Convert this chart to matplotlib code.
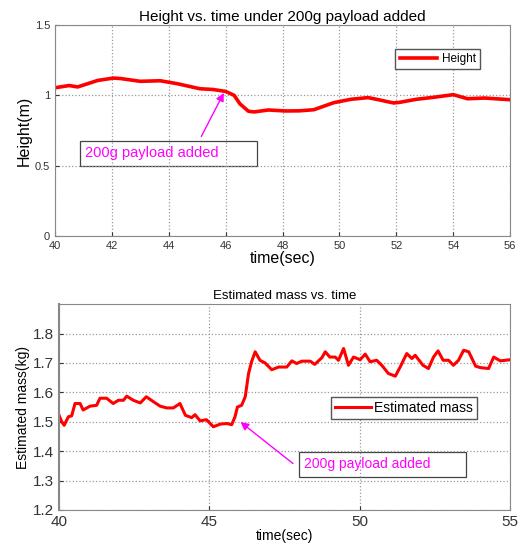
import numpy as np
import matplotlib
matplotlib.use('Agg')
import matplotlib.pyplot as plt
from matplotlib.patches import Rectangle

# height vs time
t_height = [40.0, 40.5, 40.8, 41.5, 42.05, 42.3, 43.0, 43.7, 44.3, 45.1, 45.55, 46.0,
            46.3, 46.5, 46.8, 47.0, 47.5, 48.1, 48.6, 49.1, 49.8, 50.4, 51.0, 51.3,
            51.9, 52.1, 52.7, 53.3, 54.0, 54.5, 55.1, 56.0]
height = [1.054, 1.07, 1.06, 1.106, 1.123, 1.12, 1.10, 1.104, 1.083, 1.047, 1.042, 1.028,
          1.0, 0.94, 0.887, 0.882, 0.896, 0.889, 0.89, 0.898, 0.948, 0.972, 0.984, 0.972,
          0.946, 0.95, 0.972, 0.986, 1.005, 0.976, 0.981, 0.969]

# estimated mass vs time
t_mass = [40.0, 40.09, 40.17, 40.31, 40.42, 40.53, 40.7, 40.8, 41.03, 41.25, 41.36, 41.58,
          41.8, 41.97, 42.14, 42.25, 42.47, 42.7, 42.9, 43.14, 43.36, 43.58, 43.8, 44.02,
          44.2, 44.41, 44.52, 44.69, 44.9, 45.13, 45.36, 45.58, 45.74, 45.85, 45.93, 46.07,
          46.19, 46.3, 46.4, 46.52, 46.68, 46.85, 47.07, 47.3, 47.57, 47.74, 47.9, 48.07,
          48.35, 48.5, 48.74, 48.85, 49.0, 49.18, 49.29, 49.46, 49.62, 49.79, 50.01, 50.18,
          50.34, 50.56, 50.73, 50.95, 51.18, 51.34, 51.56, 51.73, 51.84, 52.1, 52.28, 52.45,
          52.6, 52.77, 52.95, 53.11, 53.28, 53.45, 53.62, 53.85, 54.01, 54.28, 54.45, 54.67,
          54.84, 55.0]
mass = [1.522, 1.50, 1.488, 1.517, 1.52, 1.562, 1.562, 1.54, 1.553, 1.556, 1.58, 1.58,
        1.562, 1.573, 1.573, 1.587, 1.573, 1.564, 1.585, 1.568, 1.553, 1.547, 1.547, 1.562,
        1.522, 1.514, 1.524, 1.503, 1.507, 1.483, 1.492, 1.494, 1.49, 1.517, 1.55, 1.556,
        1.585, 1.664, 1.704, 1.738, 1.709, 1.70, 1.677, 1.686, 1.686, 1.707, 1.698, 1.706,
        1.706, 1.695, 1.718, 1.738, 1.72, 1.72, 1.709, 1.749, 1.692, 1.72, 1.711, 1.73,
        1.704, 1.709, 1.692, 1.664, 1.655, 1.686, 1.732, 1.715, 1.726, 1.692, 1.681, 1.72,
        1.741, 1.709, 1.709, 1.692, 1.709, 1.743, 1.738, 1.689, 1.684, 1.681, 1.72, 1.707,
        1.709, 1.711]

plt.rcParams['font.family'] = 'Liberation Sans'

fig = plt.figure(figsize=(5.18, 5.46), dpi=100)
ax1 = fig.add_axes([0.106, 0.568, 0.879, 0.386])
ax2 = fig.add_axes([0.114, 0.066, 0.871, 0.377])

for ax in (ax1, ax2):
    ax.grid(True, linestyle=':', color='#999999', linewidth=0.9)
    ax.tick_params(direction='in', colors='#333333', length=3)
    for s in ax.spines.values():
        s.set_color('#888888')

# top panel
ax1.plot(t_height, height, color='red', lw=2.6, label='Height')
ax1.set_xlim(40, 56)
ax1.set_ylim(0, 1.5)
ax1.set_xticks(np.arange(40, 57, 2))
ax1.set_yticks([0, 0.5, 1, 1.5])
ax1.set_yticklabels(['0', '0.5', '1', '1.5'])
ax1.tick_params(labelsize=8)
ax1.set_title('Height vs. time under 200g payload added', fontsize=11, pad=3)
ax1.set_xlabel('time(sec)', fontsize=11.5, labelpad=0)
ax1.set_ylabel('Height(m)', fontsize=11.5, labelpad=2)
ax1.legend(loc='upper right', bbox_to_anchor=(0.934, 0.886), fontsize=8.5, fancybox=False,
           edgecolor='#555555', handlelength=3.2, borderpad=0.35, handletextpad=0.4,
           framealpha=1, borderaxespad=0)
ax1.add_patch(Rectangle((40.88, 0.497), 6.22, 0.18, fill=False, edgecolor='#444444', lw=0.9))
ax1.text(41.05, 0.587, '200g payload added', color='magenta', fontsize=10.5, va='center')
ax1.annotate('', xy=(45.98, 1.035), xytext=(45.1, 0.69),
             arrowprops=dict(arrowstyle='-|>', color='magenta', lw=1, mutation_scale=12))

# bottom panel
ax2.plot(t_mass, mass, color='red', lw=2.2, label='Estimated mass')
ax2.set_xlim(40, 55)
ax2.set_ylim(1.2, 1.9)
ax2.set_xticks([40, 45, 50, 55])
ax2.set_yticks([1.2, 1.3, 1.4, 1.5, 1.6, 1.7, 1.8])
ax2.tick_params(labelsize=11)
ax2.spines['left'].set_linewidth(1.5)
ax2.set_title('Estimated mass vs. time', fontsize=9.5, pad=4)
ax2.set_xlabel('time(sec)', fontsize=10, labelpad=0)
ax2.set_ylabel('Estimated mass(kg)', fontsize=10, labelpad=2)
ax2.legend(loc='upper right', bbox_to_anchor=(0.927, 0.549), fontsize=10, fancybox=False,
           edgecolor='#555555', handlelength=2.6, borderpad=0.3, handletextpad=0.2,
           framealpha=1, borderaxespad=0)
ax2.add_patch(Rectangle((47.98, 1.313), 5.54, 0.085, fill=False, edgecolor='#444444', lw=0.9))
ax2.text(48.15, 1.356, '200g payload added', color='magenta', fontsize=10, va='center')
ax2.annotate('', xy=(45.96, 1.505), xytext=(47.85, 1.352),
             arrowprops=dict(arrowstyle='-|>', color='magenta', lw=1, mutation_scale=12))

fig.savefig('out.png', dpi=100)
